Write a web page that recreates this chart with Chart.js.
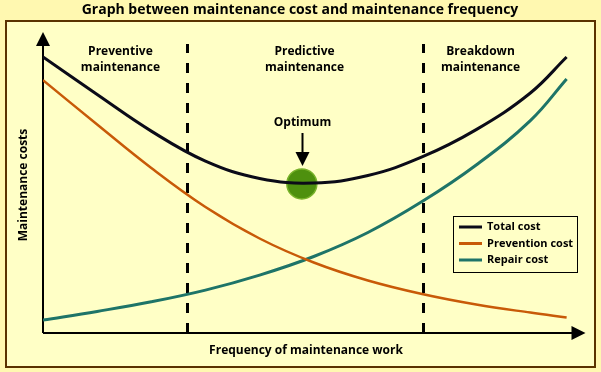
<!DOCTYPE html>
<html>
<head>
<meta charset="utf-8">
<script src="https://cdn.jsdelivr.net/npm/chart.js@4.4.1/dist/chart.umd.min.js"></script>
<style>
  html, body { margin: 0; padding: 0; background: #FFF8B0; }
  #wrap { width: 601px; height: 372px; position: relative; }
</style>
</head>
<body>
<div id="wrap"><canvas id="costChart" width="601" height="372"></canvas></div>
<script>
// frequency of maintenance work (0..100)
const frequency = [0, 10, 20, 30, 40, 50, 60, 70, 80, 90, 96.7];
const totalCost = [92, 79.5, 67.3, 57.3, 51.5, 50, 52.5, 58.7, 67.8, 80, 92];
const preventionCost = [84.3, 69.5, 55, 42, 31.5, 23.5, 17.5, 13, 9.5, 6.8, 5.2];
const repairCost = [4.3, 7.2, 10.4, 14.3, 19.3, 25.5, 33.5, 43.8, 56, 70.8, 84.7];

const optimum = [{ x: 47.8, y: 49.7 }];
const zoneBounds = [26.6, 70.1];
const zoneLabels = [
    { x: 14.3, lines: ["Preventive", "maintenance"] },
    { x: 48.3, lines: ["Predictive", "maintenance"] },
    { x: 80.8, lines: ["Breakdown", "maintenance"] }
];

const titleText = "Graph between maintenance cost and maintenance frequency";
const xTitle = "Frequency of maintenance work";
const yTitle = "Maintenance costs";

const FONT = "'Open Sans', 'Noto Sans', sans-serif";

function pts(ys) {
    return frequency.map(function (x, i) { return { x: x, y: ys[i] }; });
}

// everything drawn around the plot: frame, axes, dashed zones, labels, legend
const decorPlugin = {
    id: "decor",
    beforeDraw: function (chart) {
        const ctx = chart.ctx;
        const xs = chart.scales.x, ys = chart.scales.y;
        ctx.save();
        // inner panel
        ctx.fillStyle = "#FFFFC6";
        ctx.fillRect(6, 21, 589, 346);
        ctx.strokeStyle = "#5A3200";
        ctx.lineWidth = 2;
        ctx.strokeRect(6, 21, 589, 346);

        // title
        ctx.fillStyle = "#000";
        ctx.font = "bold 14px " + FONT;
        ctx.textAlign = "center";
        ctx.textBaseline = "middle";
        ctx.fillText(titleText, 300, 10);

        // dashed zone lines
        ctx.strokeStyle = "#000";
        ctx.lineWidth = 3;
        ctx.setLineDash([10, 10]);
        zoneBounds.forEach(function (b) {
            const px = Math.round(xs.getPixelForValue(b)) + 0.5;
            ctx.beginPath();
            ctx.moveTo(px, ys.bottom);
            ctx.lineTo(px, 44);
            ctx.stroke();
        });
        ctx.setLineDash([]);

        // zone labels
        ctx.font = "bold 12px " + FONT;
        zoneLabels.forEach(function (z) {
            const px = xs.getPixelForValue(z.x);
            ctx.fillText(z.lines[0], px, 52);
            ctx.fillText(z.lines[1], px, 68);
        });

        // axes with arrows
        const x0 = xs.left, y0 = ys.bottom;
        ctx.lineWidth = 2;
        ctx.beginPath();
        ctx.moveTo(x0, y0);
        ctx.lineTo(xs.right - 8, y0);
        ctx.moveTo(x0, y0);
        ctx.lineTo(x0, ys.top + 8);
        ctx.stroke();
        ctx.beginPath();
        ctx.moveTo(xs.right + 1, y0);
        ctx.lineTo(xs.right - 13, y0 - 7);
        ctx.lineTo(xs.right - 13, y0 + 7);
        ctx.closePath();
        ctx.fill();
        ctx.beginPath();
        ctx.moveTo(x0, ys.top - 1);
        ctx.lineTo(x0 - 7, ys.top + 13);
        ctx.lineTo(x0 + 7, ys.top + 13);
        ctx.closePath();
        ctx.fill();

        // axis titles
        ctx.font = "bold 12px " + FONT;
        ctx.fillText(xTitle, 306, 351);
        ctx.save();
        ctx.translate(24, 185);
        ctx.rotate(-Math.PI / 2);
        ctx.fillText(yTitle, 0, 0);
        ctx.restore();
        ctx.restore();
    },
    afterDraw: function (chart) {
        const ctx = chart.ctx;
        const xs = chart.scales.x, ys = chart.scales.y;
        ctx.save();
        // optimum arrow
        const ox = Math.round(xs.getPixelForValue(optimum[0].x)) + 0.5;
        const oy = ys.getPixelForValue(optimum[0].y);
        ctx.fillStyle = "#000";
        ctx.strokeStyle = "#000";
        ctx.font = "bold 12px " + FONT;
        ctx.textAlign = "center";
        ctx.textBaseline = "middle";
        ctx.fillText("Optimum", ox, 123);
        ctx.lineWidth = 2;
        ctx.beginPath();
        ctx.moveTo(ox, 133);
        ctx.lineTo(ox, oy - 30);
        ctx.stroke();
        ctx.beginPath();
        ctx.moveTo(ox, oy - 18);
        ctx.lineTo(ox - 7, oy - 32);
        ctx.lineTo(ox + 7, oy - 32);
        ctx.closePath();
        ctx.fill();

        // legend box
        const lx = 453, ly = 216, lw = 124, lh = 56;
        ctx.fillStyle = "#FFFFC6";
        ctx.fillRect(lx, ly, lw, lh);
        ctx.lineWidth = 1;
        ctx.strokeRect(lx + 0.5, ly + 0.5, lw, lh);
        ctx.textAlign = "left";
        ctx.font = "bold 11px " + FONT;
        chart.data.datasets.forEach(function (ds, i) {
            if (!ds.inLegend) return;
            const ry = ly + 11 + i * 16.5;
            ctx.strokeStyle = ds.borderColor;
            ctx.lineWidth = 3;
            ctx.beginPath();
            ctx.moveTo(lx + 6, ry);
            ctx.lineTo(lx + 29, ry);
            ctx.stroke();
            ctx.fillStyle = "#000";
            ctx.fillText(ds.label, lx + 34, ry);
        });
        ctx.restore();
    }
};

const ctx = document.getElementById("costChart").getContext("2d");

new Chart(ctx, {
    type: "line",
    data: {
        datasets: [
            { label: "Total cost", data: pts(totalCost), borderColor: "#0B0B18", borderWidth: 3, inLegend: true },
            { label: "Prevention cost", data: pts(preventionCost), borderColor: "#C85A08", borderWidth: 2.5, inLegend: true },
            { label: "Repair cost", data: pts(repairCost), borderColor: "#1E7468", borderWidth: 3, inLegend: true },
            {
                label: "Optimum", type: "scatter", data: optimum,
                pointRadius: 15, backgroundColor: "#4E900E", borderColor: "#78B22A", borderWidth: 1.5
            }
        ]
    },
    options: {
        responsive: false,
        animation: false,
        events: [],
        layout: { padding: { left: 43, right: 16, top: 33, bottom: 39 } },
        elements: {
            line: { tension: 0.4, fill: false },
            point: { radius: 0 }
        },
        scales: {
            x: { type: "linear", min: 0, max: 100, display: false },
            y: { type: "linear", min: 0, max: 100, display: false }
        },
        plugins: {
            legend: { display: false },
            tooltip: { enabled: false }
        }
    },
    plugins: [decorPlugin]
});
</script>
</body>
</html>
